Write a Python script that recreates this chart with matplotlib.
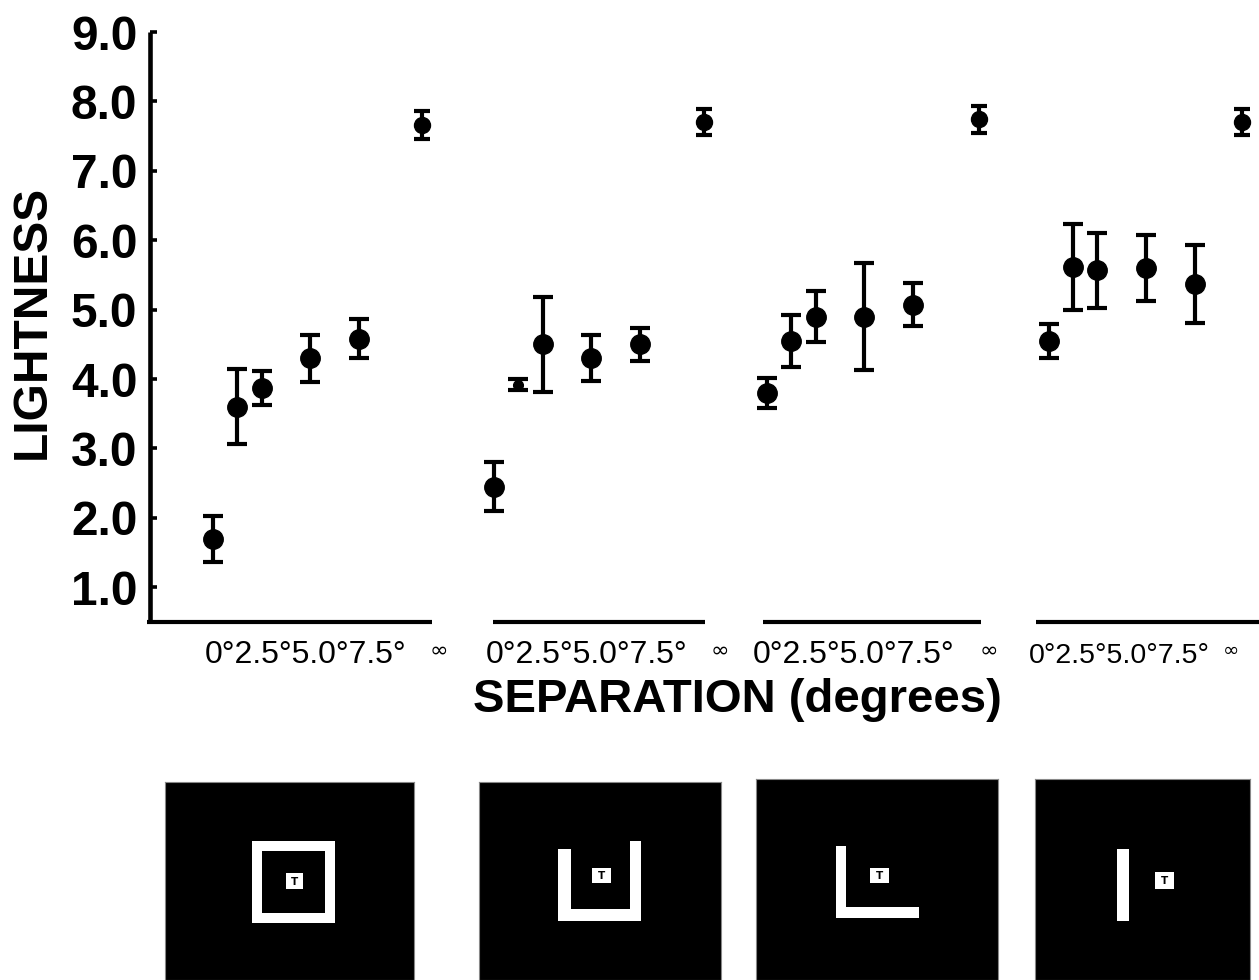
import matplotlib
matplotlib.use("Agg")
import matplotlib.pyplot as plt
import matplotlib.transforms as mtransforms
from matplotlib.patches import Rectangle

# ---------------- data ----------------
separations = [0.0, 1.25, 2.5, 5.0, 7.5]          # finite separations (deg); 6th point is infinity
tick_labels = ["0°", "2.5°", "5.0°", "7.5°"]
inf_label = "∞"

g1_mean = [1.70, 3.60, 3.87, 4.30, 4.58, 7.66]
g1_err = [0.33, 0.54, 0.25, 0.34, 0.28, 0.20]
g2_mean = [2.45, 3.92, 4.50, 4.30, 4.50, 7.70]
g2_err = [0.35, 0.08, 0.68, 0.33, 0.24, 0.19]
g3_mean = [3.80, 4.55, 4.90, 4.90, 5.07, 7.74]
g3_err = [0.22, 0.37, 0.37, 0.77, 0.31, 0.19]
g4_mean = [4.55, 5.62, 5.57, 5.60, 5.37, 7.70]
g4_err = [0.25, 0.62, 0.54, 0.47, 0.56, 0.19]

means = [g1_mean, g2_mean, g3_mean, g4_mean]
errs = [g1_err, g2_err, g3_err, g4_err]

y_ticks = [1.0, 2.0, 3.0, 4.0, 5.0, 6.0, 7.0, 8.0, 9.0]

# ---------------- layout (plot positions, not data) ----------------
group_offset = [0.0, 14.4, 28.4, 42.85]
inf_pos = [10.7, 10.8, 10.9, 9.9]
seg_rel = [(-3.4, 11.25), (-0.05, 10.85), (-0.2, 11.0), (-0.65, 11.5)]
lbl_start = [-0.4, -0.4, -0.7, -1.0]
inf_lbl_pos = [11.6, 11.6, 11.4, 9.35]

W, H = 1259, 980
fig = plt.figure(figsize=(W / 100, H / 100), dpi=100)
fig.patch.set_facecolor("white")

ax_left, ax_right, ax_top, ax_bot = 150, 1259, 32, 622
ax = fig.add_axes([ax_left / W, 1 - ax_bot / H, (ax_right - ax_left) / W, (ax_bot - ax_top) / H])
ax.set_xlim(-3.23, 53.64)
ax.set_ylim(0.5, 9.0)

for s in ["top", "right", "bottom"]:
    ax.spines[s].set_visible(False)
ax.spines["left"].set_linewidth(3.3)
ax.spines["left"].set_capstyle("butt")

ax.set_yticks(y_ticks)
ax.set_yticklabels([f"{v:.1f}" for v in y_ticks],
                   fontdict=dict(family="Liberation Sans", weight="bold", size=34.5))
ax.tick_params(axis="y", direction="in", length=5, width=2.6, pad=9, colors="black")
ax.set_xticks([])

ms_special = {(1, 1): 7}

for gi in range(4):
    off = group_offset[gi]
    xs = [off + s for s in separations] + [off + inf_pos[gi]]
    m = means[gi]
    e = errs[gi]
    # finite separations
    ax.errorbar(xs[:5], m[:5], yerr=e[:5], fmt="none", ecolor="black",
                elinewidth=3.0, capsize=7.2, capthick=3.0, clip_on=False)
    # infinity
    ax.errorbar(xs[5:], m[5:], yerr=e[5:], fmt="none", ecolor="black",
                elinewidth=3.0, capsize=5.8, capthick=3.0, clip_on=False)
    for i, (x, y) in enumerate(zip(xs, m)):
        ms = ms_special.get((gi, i), 14 if i < 5 else 11.5)
        ax.plot([x], [y], marker="o", color="black", markersize=ms, linestyle="none",
                clip_on=False, zorder=3)
    # broken x-axis segment
    a, b = seg_rel[gi]
    ax.plot([off + a, off + b], [0.5, 0.5], color="black", linewidth=3.0,
            solid_capstyle="butt", clip_on=False)
    # tick label strings
    trans = mtransforms.blended_transform_factory(ax.transData, ax.transAxes)
    ax.text(off + lbl_start[gi], -0.0695, "".join(tick_labels), transform=trans,
            ha="left", va="baseline", family="Liberation Sans", fontsize=23 if gi < 3 else 20.5)
    ax.text(off + inf_lbl_pos[gi], -0.049, inf_label, transform=trans,
            ha="center", va="center", family="DejaVu Sans",
            fontsize=16 if gi < 3 else 14)

fig.text(32 / W, 1 - 322 / H, "LIGHTNESS", rotation=90, ha="center", va="center",
         family="Liberation Sans", weight="bold", fontsize=34.5)
fig.text(737 / W, 1 - 700 / H, "SEPARATION (degrees)", ha="center", va="center",
         family="Liberation Sans", weight="bold", fontsize=34)

# ---------------- stimulus illustrations ----------------
panels = [
    dict(x0=165, y0=782, w=249,
         rects=[(87, 59, 83, 10), (87, 131, 83, 10), (87, 59, 10, 82), (160, 59, 10, 82)],
         target=(121, 91, 17, 16)),
    dict(x0=479, y0=782, w=242,
         rects=[(79, 67, 13, 72), (151, 59, 11, 80), (79, 127, 83, 12)],
         target=(113, 86, 19, 15)),
    dict(x0=756, y0=779, w=242,
         rects=[(80, 67, 10, 72), (80, 128, 83, 11)],
         target=(114, 89, 19, 15)),
    dict(x0=1035, y0=779, w=215,
         rects=[(82, 70, 12, 72)],
         target=(120, 93, 19, 17)),
]
for p in panels:
    h = H - p["y0"]
    pax = fig.add_axes([p["x0"] / W, 0, p["w"] / W, h / H])
    pax.set_xlim(0, p["w"])
    pax.set_ylim(h, 0)
    pax.set_facecolor("black")
    pax.set_xticks([])
    pax.set_yticks([])
    for sp in pax.spines.values():
        sp.set_color("#888888")
        sp.set_linewidth(0.8)
    for (rx, ry, rw, rh) in p["rects"]:
        pax.add_patch(Rectangle((rx, ry), rw, rh, facecolor="white", edgecolor="none"))
    tx, ty, tw, th = p["target"]
    pax.add_patch(Rectangle((tx, ty), tw, th, facecolor="white", edgecolor="none"))
    pax.text(tx + tw / 2, ty + th / 2 + 0.5, "T", ha="center", va="center",
             family="DejaVu Sans", weight="bold", fontsize=7.5, color="black")

fig.savefig("out.png", dpi=100, facecolor="white")
